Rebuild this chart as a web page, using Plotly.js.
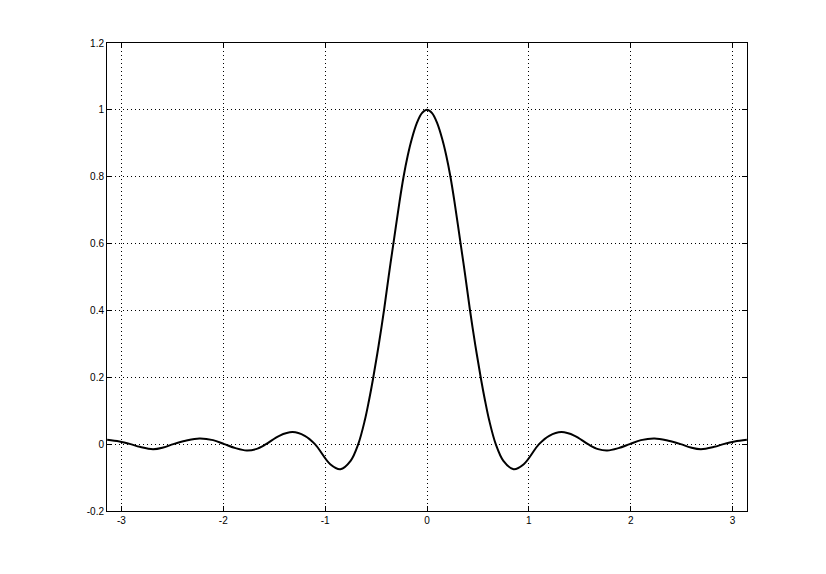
<!DOCTYPE html>
<html>
<head>
<meta charset="utf-8">
<script src="https://cdn.plot.ly/plotly-3.0.1.min.js"></script>
<style>html,body{margin:0;padding:0;background:#fff;}#chart{width:826px;height:574px;}</style>
</head>
<body>
<div id="chart"></div>
<script>
// values
var xValues = [-3.14, -3.02, -2.91, -2.82, -2.69, -2.59, -2.49, -2.37, -2.235, -2.1, -1.99, -1.88, -1.77, -1.68, -1.58, -1.45, -1.32, -1.2, -1.1, -0.95, -0.85, -0.75, -0.675, -0.61, -0.57, -0.53, -0.475, -0.42, -0.375, -0.33, -0.27, -0.23, -0.19, -0.15, -0.1, -0.05, 0,
               0.05, 0.1, 0.15, 0.19, 0.23, 0.27, 0.33, 0.375, 0.42, 0.475, 0.53, 0.57, 0.61, 0.675, 0.75, 0.85, 0.95, 1.1, 1.2, 1.32, 1.45, 1.58, 1.68, 1.77, 1.88, 1.99, 2.1, 2.235, 2.37, 2.49, 2.59, 2.69, 2.82, 2.91, 3.02, 3.14];
var yValues = [0.013, 0.008, 0.0, -0.008, -0.015, -0.01, 0.0, 0.01, 0.017, 0.012, 0.0, -0.012, -0.019, -0.015, 0.0, 0.025, 0.036, 0.025, 0.0, -0.06, -0.075, -0.05, 0.0, 0.072, 0.13, 0.195, 0.295, 0.405, 0.505, 0.6, 0.725, 0.8, 0.862, 0.912, 0.96, 0.99, 1.0,
               0.99, 0.96, 0.912, 0.862, 0.8, 0.725, 0.6, 0.505, 0.405, 0.295, 0.195, 0.13, 0.072, 0.0, -0.05, -0.075, -0.06, 0.0, 0.025, 0.036, 0.025, 0.0, -0.015, -0.019, -0.012, 0.0, 0.012, 0.017, 0.01, 0.0, -0.01, -0.015, -0.008, 0.0, 0.008, 0.013];
var xTicks = [-3, -2, -1, 0, 1, 2, 3];
var xTickLabels = ['-3', '-2', '-1', '0', '1', '2', '3'];
var yTicks = [-0.2, 0, 0.2, 0.4, 0.6, 0.8, 1, 1.2];
var yTickLabels = ['-0.2', '0', '0.2', '0.4', '0.6', '0.8', '1', '1.2'];

var trace = {
  x: xValues, y: yValues, type: 'scatter', mode: 'lines',
  line: {color: '#000', width: 2, shape: 'spline', smoothing: 1},
  hoverinfo: 'skip'
};
var axisCommon = {
  showline: true, linecolor: '#000', linewidth: 1, mirror: 'ticks',
  ticks: 'inside', ticklen: 5, tickcolor: '#000', tickwidth: 1,
  showgrid: true, gridcolor: '#000', gridwidth: 1, griddash: '1px,3px',
  zeroline: false, tickfont: {family: 'Liberation Sans, Arial, sans-serif', size: 10, color: '#000'},
  tickmode: 'array'
};
var layout = {
  width: 826, height: 574,
  margin: {l: 107, r: 79, t: 43, b: 63, pad: 0},
  paper_bgcolor: '#fff', plot_bgcolor: '#fff',
  showlegend: false,
  xaxis: Object.assign({}, axisCommon, {range: [-3.1416, 3.1416], tickvals: xTicks, ticktext: xTickLabels}),
  yaxis: Object.assign({}, axisCommon, {range: [-0.2, 1.2], tickvals: yTicks, ticktext: yTickLabels})
};
Plotly.newPlot('chart', [trace], layout, {displayModeBar: false, staticPlot: true});
</script>
</body>
</html>
